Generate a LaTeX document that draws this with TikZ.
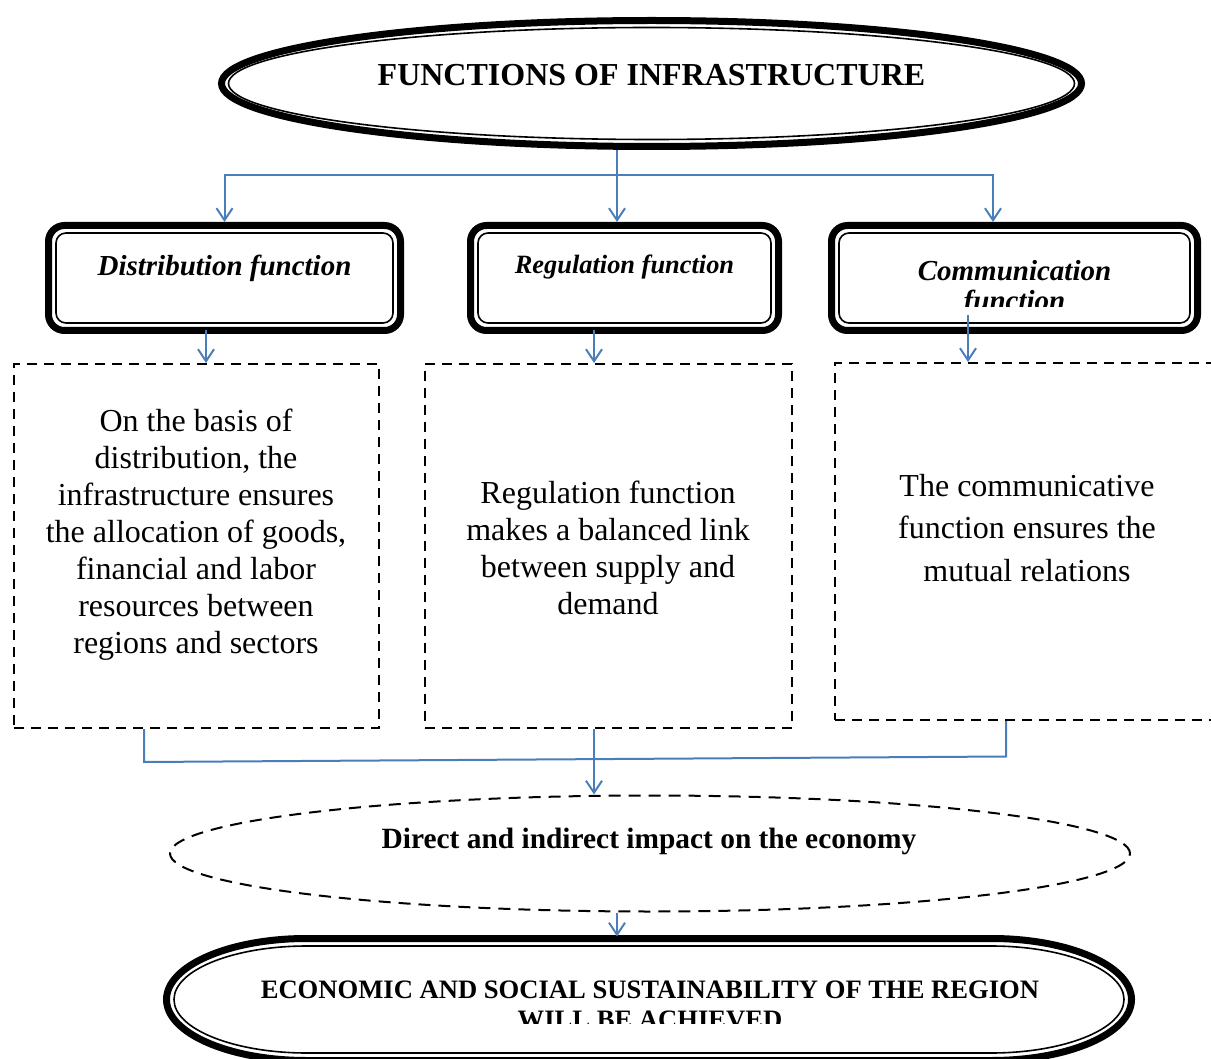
\documentclass[tikz,border=0pt]{standalone}
\usepackage{fontspec}
\setmainfont{Liberation Serif}
\usetikzlibrary{shapes.geometric,arrows.meta}
\definecolor{linkblue}{HTML}{4A7EBB}

\tikzset{
  link/.style={draw=linkblue, line width=1pt},
  flow/.style={link, -{Straight Barb[length=6pt,width=8pt]}},
  fnbox/.style={draw, line width=3.5pt, rounded corners=8pt, minimum height=52.5pt, inner sep=0pt, outer sep=0pt},
  fnframe/.style={draw, line width=0.8pt, rounded corners=5pt},
  fnlabel/.style={font=\fontsize{14.5}{15}\selectfont\bfseries\itshape, align=center, inner sep=0pt},
  notebox/.style={draw, line width=1pt, dash pattern=on 5pt off 3.5pt, inner sep=0pt},
  notetext/.style={font=\fontsize{16}{18.5}\selectfont, align=center, inner sep=0pt},
  headtext/.style={font=\fontsize{16}{19}\selectfont\bfseries, align=center, inner sep=0pt}
}

\begin{document}
\begin{tikzpicture}[x=0.5pt,y=-0.5pt]
\clip (0,0) rectangle (1211,1059);

% title
\node[ellipse, draw, line width=3.5pt, minimum width=430pt, minimum height=63pt, inner sep=0pt] (title) at (651.5,83.5) {};
\draw[line width=0.8pt] (title.center) ellipse [x radius=211.5pt, y radius=28pt];
\node[headtext] (titletext) at (651.5,75) {FUNCTIONS OF INFRASTRUCTURE};

% function boxes
\node[fnbox, minimum width=176pt] (distbox) at (224.5,278) {};
\node[fnbox, minimum width=154pt] (regbox) at (624.5,278) {};
\node[fnbox, minimum width=183pt] (commbox) at (1014.5,278) {};
\foreach \bx in {distbox,regbox,commbox}
{
  \draw[fnframe] ([xshift=3.75pt,yshift=3.75pt]\bx.south west) rectangle ([xshift=-3.75pt,yshift=-3.75pt]\bx.north east);
}
\node[fnlabel] (distlabel) at (224.5,268) {Distribution function};
\node[fnlabel, font=\fontsize{13.2}{15}\selectfont\bfseries\itshape] (reglabel) at (624.5,267) {Regulation function};
\begin{scope}
  \clip (830,230) rectangle (1200,307);
  \node[fnlabel] (commlabel) at (1014.5,289) {Communication\\function};
\end{scope}

% explanation boxes
\node[notebox, minimum width=182.5pt, minimum height=182pt] (distnote) at (196.5,546) {};
\node[notebox, minimum width=183.5pt, minimum height=182pt] (regnote) at (608.5,546) {};
\node[notebox, minimum width=193pt, minimum height=178.5pt] (commnote) at (1028,541.5) {};
\node[notetext] (disttext) at (196,535) {On the basis of\\distribution, the\\infrastructure ensures\\the allocation of goods,\\financial and labor\\resources between\\regions and sectors};
\node[notetext] (regtext) at (608,548) {Regulation function\\makes a balanced link\\between supply and\\demand};
\node[notetext, font=\fontsize{16}{21.25}\selectfont] (commtext) at (1027,528) {The communicative\\function ensures the\\mutual relations};

% impact
\node[ellipse, draw, line width=1pt, dash pattern=on 6pt off 4pt, minimum width=480pt, minimum height=58pt, inner sep=0pt] (impact) at (650,853.5) {};
\node[headtext, font=\fontsize{14.7}{18}\selectfont\bfseries] (impacttext) at (649,841) {Direct and indirect impact on the economy};

% goal
\draw[line width=3.5pt] (306.5,938.5) -- (991.5,938.5) arc[start angle=-90, end angle=90, x radius=140, y radius=61]
  -- (306.5,1060.5) arc[start angle=90, end angle=270, x radius=140, y radius=61] -- cycle;
\draw[line width=0.8pt] (307,946) -- (991,946) arc[start angle=-90, end angle=90, x radius=133, y radius=53.5]
  -- (307,1053) arc[start angle=90, end angle=270, x radius=133, y radius=53.5] -- cycle;
\begin{scope}
  \clip (180,950) rectangle (1120,1023);
  \node[headtext, font=\fontsize{13.3}{15}\selectfont\bfseries] (goal) at (650,1005) {ECONOMIC AND SOCIAL SUSTAINABILITY OF THE REGION\\WILL BE ACHIEVED};
\end{scope}

% connectors
\coordinate (split) at (617,175);
\draw[link] (title.south -| split) -- (split);
\draw[flow, shorten >=1.75pt] (split) -| (distbox.north);
\draw[flow, shorten >=1.75pt] (split) -- (split |- regbox.north);
\draw[flow, shorten >=1.75pt] (split) -| ([xshift=-10.75pt]commbox.north);

\draw[flow] ([xshift=-9.25pt]distbox.south) -- ([xshift=-9.25pt]distbox.south |- distnote.north);
\draw[flow] ([xshift=-15.25pt]regbox.south) -- ([xshift=-15.25pt]regbox.south |- regnote.north);
\draw[flow] ([xshift=-23.25pt,yshift=7.75pt]commbox.south) -- ([xshift=-23.25pt]commbox.south |- commnote.north);

\coordinate (joinl) at (144,762);
\coordinate (joinr) at (1006,756.5);
\draw[link] (distnote.south -| joinl) -- (joinl) -- (joinr) -- (commnote.south -| joinr);
\draw[flow] ([xshift=-7.25pt]regnote.south) -- ([xshift=-7.25pt]regnote.south |- impact.north);

\coordinate (goaltop) at (617,936.5);
\draw[flow] (impact.south -| goaltop) -- (goaltop);
\end{tikzpicture}
\end{document}
